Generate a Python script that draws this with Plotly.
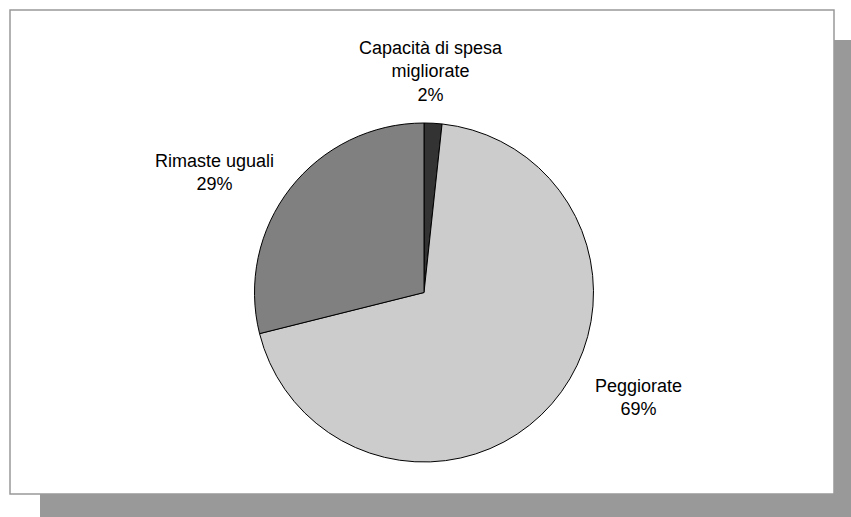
import plotly.graph_objects as go

labels = ["Capacità di spesa<br>migliorate", "Peggiorate", "Rimaste uguali"]
values = [1.7, 69.4, 28.9]
colors = ["#333333", "#cccccc", "#808080"]

W, H = 851, 517


def px(x):
    return x / W


def py(y):
    return 1 - y / H


cx, cy, r = 424, 292.5, 169.5

fig = go.Figure(
    go.Pie(
        labels=labels,
        values=values,
        sort=False,
        direction="clockwise",
        rotation=0,
        marker=dict(colors=colors, line=dict(color="#000000", width=1)),
        textinfo="none",
        showlegend=False,
        domain=dict(x=[px(cx - r), px(cx + r)], y=[py(cy + r), py(cy - r)]),
    )
)

total = sum(values)
label_pos = [(431, 71), (638, 397), (215, 172)]
annotations = []
for lab, v, (lx, ly) in zip(labels, values, label_pos):
    annotations.append(
        dict(
            x=px(lx), y=py(ly), xref="paper", yref="paper",
            text=f"{lab}<br>{round(v / total * 100)}%",
            showarrow=False, xanchor="center", yanchor="middle",
            font=dict(family="Liberation Sans, Arial, sans-serif", size=18, color="#000000"),
        )
    )

shapes = [
    dict(type="rect", xref="paper", yref="paper", x0=px(40), x1=px(851), y0=py(517), y1=py(40),
         fillcolor="#999999", line=dict(width=0), layer="below"),
    dict(type="rect", xref="paper", yref="paper", x0=px(10), x1=px(834), y0=py(494), y1=py(10),
         fillcolor="#ffffff", line=dict(color="#999999", width=1.5), layer="below"),
]

fig.update_layout(
    width=W, height=H,
    margin=dict(l=0, r=0, t=0, b=0),
    paper_bgcolor="#ffffff",
    plot_bgcolor="#ffffff",
    annotations=annotations,
    shapes=shapes,
)

fig.write_html("out.html")
